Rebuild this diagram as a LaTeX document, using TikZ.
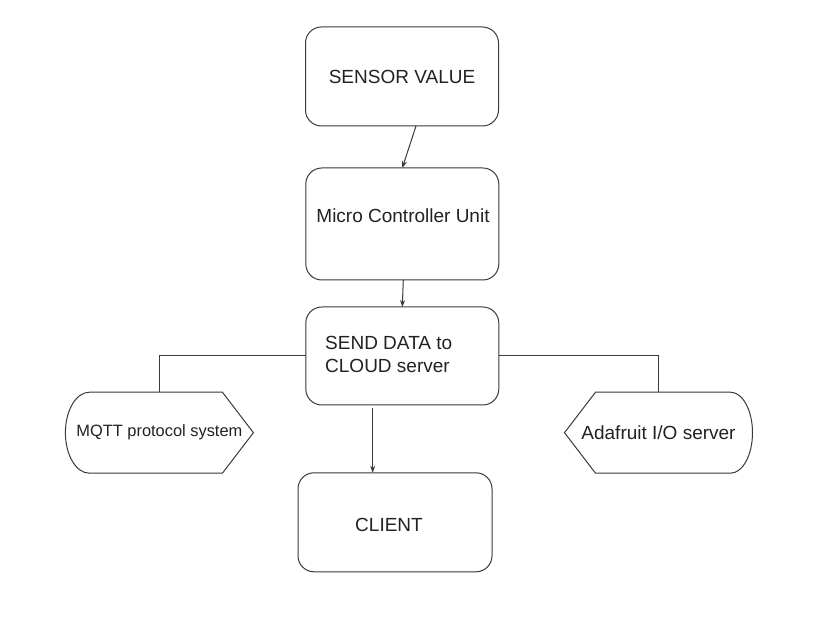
\documentclass[tikz,border=0pt]{standalone}
\usepackage{fontspec}
\setmainfont{Liberation Sans}
\usetikzlibrary{arrows.meta, positioning}

\definecolor{linecol}{HTML}{3A3A3A}
\definecolor{textcol}{HTML}{222222}

\begin{document}
\begin{tikzpicture}[
            x=1pt, y=1pt,
            % Stile per i riquadri arrotondati
            box/.style={draw=linecol, line width=1pt, rounded corners=16pt,
                        inner sep=0pt, outer sep=0pt, minimum width=193pt},
            % Stile per i testi
            txt/.style={text=textcol, font=\fontsize{19}{23}\selectfont, inner sep=0pt},
            % Stile per le forme laterali
            display/.style={inner sep=0pt, outer sep=0pt, minimum width=188pt,
                            minimum height=81pt, text=textcol},
            % Stile per le frecce
            arrow/.style={draw=linecol, line width=1pt, -{Stealth[length=7pt, width=5pt]}},
            % Stile per i collegamenti
            link/.style={draw=linecol, line width=1pt}
        ]

            % Sfondo e dimensioni
            \fill[white] (0,0) rectangle (820,619);
            \useasboundingbox (0,0) rectangle (820,619);

            % --- Colonna centrale ---
            \node[box, minimum height=99pt] (sensor) at (402,542.5) {};
            \node[txt] (sensortxt) at (402,542) {SENSOR VALUE};

            \node[box, minimum height=112pt] (mcu) at (402.3,395) {};
            \node[txt] (mcutxt) at (403,403.3) {Micro Controller Unit};

            \node[box, minimum height=98pt] (send) at (402.3,263) {};
            \node[txt, anchor=west, align=left] (sendtxt) at (325,264.5) {SEND DATA to\\CLOUD server};

            \node[box, minimum height=99pt, minimum width=194pt] (client) at (395,96.7) {};
            \node[txt] (clienttxt) at (389,94) {CLIENT};

            % --- Forme laterali ---
            \node[display, font=\fontsize{16.4}{20}\selectfont] (mqtt) at (159.4,186.3) {MQTT protocol system};
            \draw[link] ([xshift=24pt]mqtt.north west) -- ([xshift=-31pt]mqtt.north east)
                -- (mqtt.east) -- ([xshift=-31pt]mqtt.south east)
                -- ([xshift=24pt]mqtt.south west)
                arc[start angle=270, end angle=90, x radius=24pt, y radius=40.5pt] -- cycle;

            \node[display, font=\fontsize{19}{23}\selectfont] (ada) at (658.5,186.3) {Adafruit I/O server};
            \draw[link] (ada.west) -- ([xshift=31pt]ada.north west)
                -- ([xshift=-22pt]ada.north east)
                arc[start angle=90, end angle=-90, x radius=22pt, y radius=40.5pt]
                -- ([xshift=31pt]ada.south west) -- cycle;

            % --- Frecce ---
            \draw[arrow] ([xshift=14pt]sensor.south) -- (mcu.north);
            \draw[arrow] ([xshift=1pt]mcu.south) -- (send.north);
            \draw[arrow] ([xshift=-29.6pt,yshift=-3pt]send.south) -- ([xshift=-22.3pt]client.north);

            % --- Collegamenti laterali ---
            \draw[link] (send.west) -| (mqtt.north);
            \draw[link] (send.east) -| (ada.north);

        \end{tikzpicture}
\end{document}
